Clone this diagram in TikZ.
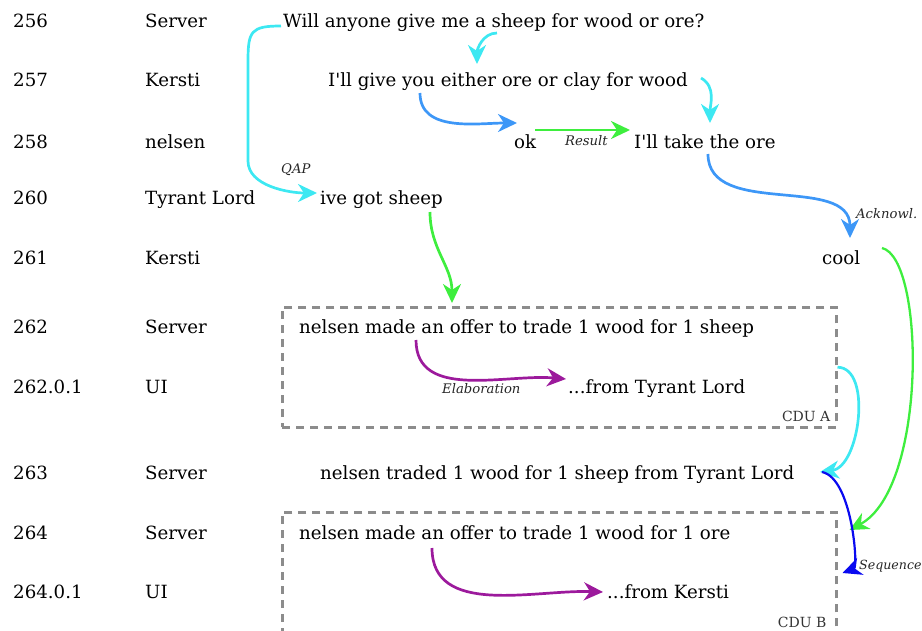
\documentclass[tikz,border=0pt]{standalone}
\usepackage{fontspec}
\setmainfont{DejaVu Serif}
\usetikzlibrary{arrows.meta}

\definecolor{qapcyan}{HTML}{3DE8F2}
\definecolor{ackblue}{HTML}{3D97F7}
\definecolor{resgreen}{HTML}{3EEE3E}
\definecolor{elabpurple}{HTML}{9C1A9C}
\definecolor{seqblue}{HTML}{0A0AF0}
\definecolor{cdugray}{HTML}{8C8C8C}

\begin{document}
\begin{tikzpicture}[x=1pt,y=1pt,
    turn/.style={anchor=base west, inner sep=0pt, font=\fontsize{18.2}{20}\selectfont},
    rel/.style={line width=2.7pt, -{Stealth[length=19pt,width=18pt,inset=6pt]}},
    rellabel/.style={anchor=base west, inner sep=0pt, font=\itshape\fontsize{13.2}{15}\selectfont, text=black!85},
    cdubox/.style={draw=cdugray, line width=2.5pt, dash pattern=on 8pt off 6pt, inner sep=0pt, anchor=north west, minimum width=554pt, minimum height=120pt},
    cdulabel/.style={anchor=base east, inner sep=0pt, font=\fontsize{14}{16}\selectfont, text=black!80}]

  % Fix the frame
  \useasboundingbox (0,0) rectangle (922,-630);

  % Turn numbers
  \node[turn] (id256) at (13,-27) {256};
  \node[turn] (id257) at (13,-86) {257};
  \node[turn] (id258) at (13,-148) {258};
  \node[turn] (id260) at (13,-204) {260};
  \node[turn] (id261) at (13,-264) {261};
  \node[turn] (id262) at (13,-333) {262};
  \node[turn] (id2620) at (13,-393) {262.0.1};
  \node[turn] (id263) at (13,-479) {263};
  \node[turn] (id264) at (13,-539) {264};
  \node[turn] (id2640) at (13,-598) {264.0.1};

  % Speakers
  \node[turn] (sp256) at (145,-27) {Server};
  \node[turn] (sp257) at (145,-86) {Kersti};
  \node[turn] (sp258) at (145,-148) {nelsen};
  \node[turn] (sp260) at (145,-204) {Tyrant Lord};
  \node[turn] (sp261) at (145,-264) {Kersti};
  \node[turn] (sp262) at (145,-333) {Server};
  \node[turn] (sp2620) at (145,-393) {UI};
  \node[turn] (sp263) at (145,-479) {Server};
  \node[turn] (sp264) at (145,-539) {Server};
  \node[turn] (sp2640) at (145,-598) {UI};

  % Units
  \node[turn] (u256) at (283,-27) {Will anyone give me a sheep for wood or ore?};
  \node[turn] (u257) at (328,-86) {I\textquotesingle ll give you either ore or clay for wood};
  \node[turn] (u258a) at (514,-148) {ok};
  \node[turn] (u258b) at (634,-148) {I\textquotesingle ll take the ore};
  \node[turn] (u260) at (320,-204) {ive got sheep};
  \node[turn] (u261) at (822,-264) {cool};
  \node[turn] (u262) at (299,-333) {nelsen made an offer to trade 1 wood for 1 sheep};
  \node[turn] (u2620) at (568,-393) {...from Tyrant Lord};
  \node[turn] (u263) at (320,-479) {nelsen traded 1 wood for 1 sheep from Tyrant Lord};
  \node[turn] (u264) at (299,-539) {nelsen made an offer to trade 1 wood for 1 ore};
  \node[turn] (u2640) at (607,-598) {...from Kersti};

  % CDUs
  \node[cdubox] (cduA) at (281,-306) {};
  \node[cdubox] (cduB) at (281,-511) {};
  \node[cdulabel] (cduAlbl) at ([shift={(-7,7)}]cduA.south east) {CDU A};
  \node[cdulabel] (cduBlbl) at ([shift={(-11,6)}]cduB.south east) {CDU B};

  % Relations
  \draw[rel, qapcyan] ([shift={(-2,1)}]u256.base west) .. controls +(-30,0) and +(0,30) .. ++(-33,-35)
    -- ++(0,-100) .. controls +(0,-25) and +(-28,0) .. ([shift={(-3,11)}]u260.base west);
  \node[rellabel] (lblqap) at (281,-173) {QAP};

  \draw[rel, qapcyan] ([shift={(214,-6)}]u256.base west) to[out=180,in=90] ([shift={(149,22)}]u257.base west);
  \draw[rel, qapcyan] ([shift={(373,8)}]u257.base west) to[out=-30,in=90] ([shift={(76,25)}]u258b.base west);
  \draw[rel, ackblue] ([shift={(92,-7)}]u257.base west) to[out=-90,in=180] ([shift={(3,25)}]u258a.base west);

  \draw[rel, resgreen] ([shift={(21,18)}]u258a.base west) -- ([shift={(-4,18)}]u258b.base west);
  \node[rellabel] (lblres) at (565,-145) {Result};

  \draw[rel, ackblue] ([shift={(74,-6)}]u258b.base west) to[out=-90,in=90] ([shift={(28,26)}]u261.base west);
  \node[rellabel] (lblack) at (856,-218) {Acknowl.};

  \draw[rel, resgreen] ([shift={(110,-8)}]u260.base west) to[out=-90,in=90] ([shift={(171,3)}]cduA.north west);

  \draw[rel, elabpurple] ([shift={(117,-7)}]u262.base west) to[out=-90,in=175] ([shift={(-2,14)}]u2620.base west);
  \node[rellabel] (lblelab) at (442,-393) {Elaboration};

  \draw[rel, qapcyan] (cduA.east) .. controls +(35,0) and +(40,5) .. ([shift={(500,7)}]u263.base west);
  \draw[rel, resgreen, line width=2.3pt] ([shift={(60,16)}]u261.base west) .. controls +(43,-10) and +(78,42) .. ([shift={(12,-19)}]cduB.north east);

  \draw[rel, seqblue, line width=2.2pt] ([shift={(502,7)}]u263.base west) .. controls +(30,-6) and +(16,6) .. ([shift={(5,-62)}]cduB.north east);
  \node[rellabel, font=\itshape\fontsize{12.6}{15}\selectfont] (lblseq) at (859,-569) {Sequence};

  \draw[rel, elabpurple] ([shift={(133,-9)}]u264.base west) to[out=-90,in=178] ([shift={(-4,6)}]u2640.base west);
\end{tikzpicture}
\end{document}
